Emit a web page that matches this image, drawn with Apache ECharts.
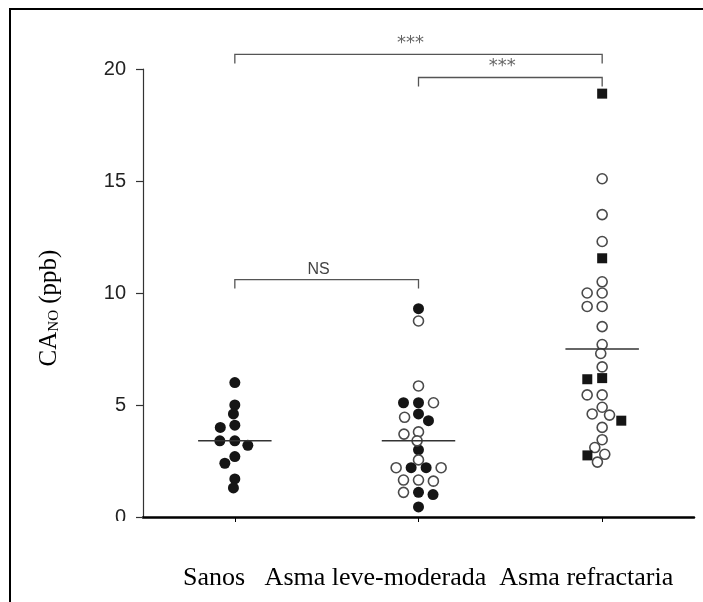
<!DOCTYPE html>
<html><head><meta charset="utf-8">
<script src="https://cdn.jsdelivr.net/npm/echarts@6/dist/echarts.min.js"></script>
<style>html,body{margin:0;padding:0;background:#fff}#c{width:703px;height:602px}</style>
</head><body><div id="c"></div>
<script>
// ---- data ----
const categories = ['Sanos', 'Asma leve-moderada', 'Asma refractaria'];
const yTicks = [0, 5, 10, 15, 20];
const sanos = [6.0, 5.0, 4.6, 4.1, 4.0, 3.4, 3.4, 3.2, 2.7, 2.4, 1.7, 1.3];
const leveFilled = [9.3, 5.1, 5.1, 4.6, 4.3, 3.0, 2.2, 2.2, 1.1, 1.0, 0.45];
const leveOpen = [8.75, 5.85, 5.1, 4.45, 3.8, 3.7, 3.4, 2.55, 2.2, 2.2, 1.65, 1.65, 1.6, 1.1];
const refOpen = [15.1, 13.5, 12.3, 10.5, 10.0, 10.0, 9.4, 9.4, 8.5, 7.7, 7.3, 6.7, 5.45, 5.45, 4.9, 4.6, 4.55, 4.0, 3.45, 3.1, 2.8, 2.45];
const refSquare = [18.9, 11.55, 6.2, 6.15, 4.3, 2.75];
const medians = [3.4, 3.4, 7.5];
const compFrom = [0, 0, 1];
const compTo = [1, 2, 2];
const compLevel = [10.6, 20.65, 19.62];
const compLabel = ['NS', '***', '***'];

// ---- chart ----
const chart = echarts.init(document.getElementById('c'), null, {renderer: 'canvas'});
const base = {
  animation: false,
  grid: {left: 143, top: 69, right: 9, bottom: 85, containLabel: false},
  xAxis: [
    {type: 'category', data: categories, boundaryGap: true, gridIndex: 0,
     axisLine: {show: true, lineStyle: {color: '#000', width: 2.5}},
     axisTick: {show: true, alignWithLabel: true, length: 5, lineStyle: {color: '#000', width: 1}},
     axisLabel: {show: false}, splitLine: {show: false}},
    {type: 'value', min: 0, max: 3, show: false, gridIndex: 0}
  ],
  yAxis: {type: 'value', min: yTicks[0], max: yTicks[yTicks.length - 1], interval: 5,
    axisLine: {show: true, lineStyle: {color: '#333', width: 1.2}},
    axisTick: {show: true, length: 7, lineStyle: {color: '#333', width: 1.2}},
    axisLabel: {margin: 17, fontSize: 20, color: '#222', fontFamily: 'Liberation Sans'},
    splitLine: {show: false}}
};
chart.setOption(base);

// simple beeswarm layout in pixel space (elliptical collision: wide horizontally, tighter vertically)
function swarm(values, catIdx) {
  const DX = 15, DY = 9;
  const placed = [];
  const cx = chart.convertToPixel({xAxisIndex: 1}, catIdx + 0.5);
  const out = [];
  values.forEach((v) => {
    const py = chart.convertToPixel({yAxisIndex: 0}, v);
    const ints = [];
    placed.forEach((p) => {
      const dy = Math.abs(p.py - py) / DY;
      if (dy < 1) { const w = DX * Math.sqrt(1 - dy * dy); ints.push([p.px - w, p.px + w]); }
    });
    const cands = [cx];
    ints.forEach(([a, b]) => cands.push(a, b));
    cands.sort((a, b) => (Math.abs(a - cx) - Math.abs(b - cx)) || (a - b));
    let x = cx;
    for (const c of cands) {
      if (ints.every(([a, b]) => c <= a + 1e-6 || c >= b - 1e-6)) { x = c; break; }
    }
    placed.push({px: x, py});
    out.push([chart.convertFromPixel({xAxisIndex: 1}, x), v]);
  });
  return out;
}
function group(sets, catIdx) {
  const all = [];
  sets.forEach((s, si) => s.forEach((v) => all.push({v, si})));
  all.sort((a, b) => b.v - a.v);
  const pts = swarm(all.map(a => a.v), catIdx);
  const res = sets.map(() => []);
  all.forEach((a, i) => res[a.si].push(pts[i]));
  return res;
}
const [gS] = group([sanos], 0);
const [gLF, gLO] = group([leveFilled, leveOpen], 1);
const [gRO, gRS] = group([refOpen, refSquare], 2);

const filledStyle = {color: '#151515', opacity: 1};
const openStyle = {color: '#ffffff', borderColor: '#4a4a4a', borderWidth: 1.6, opacity: 1};

chart.setOption({
  series: [
    {type: 'scatter', xAxisIndex: 1, symbol: 'circle', symbolSize: 11, itemStyle: filledStyle, data: gS},
    {type: 'scatter', xAxisIndex: 1, symbol: 'circle', symbolSize: 11, itemStyle: filledStyle, data: gLF},
    {type: 'scatter', xAxisIndex: 1, symbol: 'circle', symbolSize: 10, itemStyle: openStyle, data: gLO},
    {type: 'scatter', xAxisIndex: 1, symbol: 'circle', symbolSize: 10, itemStyle: openStyle, data: gRO},
    {type: 'scatter', xAxisIndex: 1, symbol: 'rect', symbolSize: 10, itemStyle: filledStyle, data: gRS},
    {type: 'custom', xAxisIndex: 1, clip: false, z: 5,
     data: medians.map((m, i) => [i, m]),
     renderItem: (params, api) => {
       const i = api.value(0), m = api.value(1);
       const p1 = api.coord([i + 0.5 - 0.2, m]);
       const p2 = api.coord([i + 0.5 + 0.2, m]);
       return {type: 'line', shape: {x1: p1[0], y1: p1[1], x2: p2[0], y2: p2[1]},
               style: {stroke: '#333', lineWidth: 1.5}};
     }},
    {type: 'custom', xAxisIndex: 1, clip: false, z: 5,
     data: compLevel.map((l, i) => [compFrom[i], compTo[i], l]),
     renderItem: (params, api) => {
       const a = api.value(0), b = api.value(1), l = api.value(2);
       const p1 = api.coord([a + 0.5, l]);
       const p2 = api.coord([b + 0.5, l]);
       const drop = 9;
       const lab = compLabel[params.dataIndex];
       return {type: 'group', children: [
         {type: 'polyline', shape: {points: [[p1[0], p1[1] + drop], [p1[0], p1[1]], [p2[0], p2[1]], [p2[0], p2[1] + drop]]},
          style: {stroke: '#555', lineWidth: 1.3, fill: null}},
         {type: 'text', x: (p1[0] + p2[0]) / 2 - 8, y: p1[1] - (lab === 'NS' ? 10 : 11),
          style: {text: lab, align: 'center', verticalAlign: 'middle',
                  fontSize: lab === 'NS' ? 16 : 18,
                  fontFamily: lab === 'NS' ? 'Liberation Sans' : 'DejaVu Sans',
                  fill: lab === 'NS' ? '#444' : '#666'}}
       ]};
     }}
  ],
  graphic: [
    {type: 'rect', shape: {x: 10, y: 9, width: 900, height: 900}, style: {fill: null, stroke: '#000', lineWidth: 2}, z: 50},
    {type: 'rect', shape: {x: 95, y: 521, width: 44, height: 16}, style: {fill: '#fff'}, z: 100},
    {type: 'text', x: 183, y: 578, z: 100,
     style: {text: categories[0] + '   ' + categories[1] + '  ' + categories[2],
             fontSize: 26, fontFamily: 'Liberation Serif', fill: '#000', align: 'left', verticalAlign: 'middle'}},
    {type: 'text', x: 49, y: 308, rotation: Math.PI / 2, z: 100,
     style: {text: '{m|CA}{s|NO}{m| (ppb)}', align: 'center', verticalAlign: 'middle', fill: '#000',
             rich: {m: {fontSize: 25, fontFamily: 'Liberation Serif', fill: '#000'},
                    s: {fontSize: 15, fontFamily: 'Liberation Serif', fill: '#000', verticalAlign: 'bottom', padding: [6, 0, 0, 0]}}}}
  ]
});
</script>
</body></html>
